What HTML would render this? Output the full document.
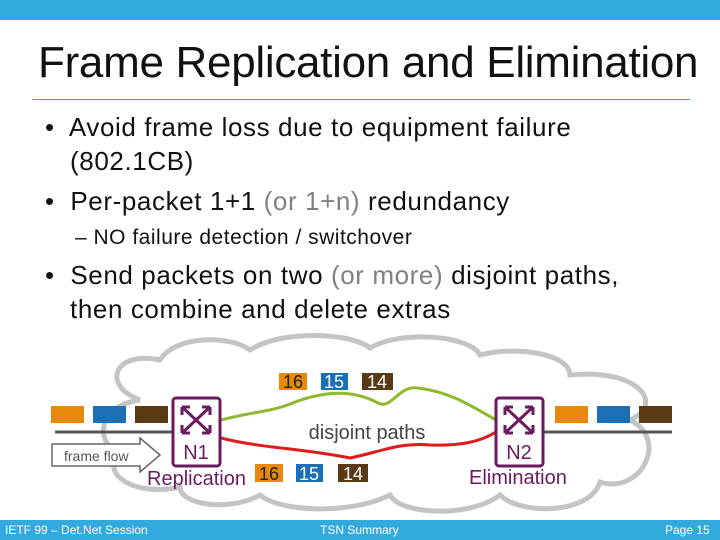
<!DOCTYPE html>
<html><head><meta charset="utf-8"><style>
body{margin:0;width:720px;height:540px;position:relative;overflow:hidden;background:#fff;font-family:"Liberation Sans",Arial,sans-serif}
.t{position:absolute;white-space:nowrap;color:#111}
.g{color:#808080}
.b{font-size:26px;letter-spacing:0.6px}
</style></head><body>
<div style="position:absolute;left:0;top:0;width:720px;height:20px;background:#33aadd"></div>
<div class="t" style="left:38px;top:38px;font-size:44px;letter-spacing:-0.3px">Frame Replication and Elimination</div>
<div style="position:absolute;left:32px;top:99px;width:658px;height:1px;background:#4a9fb0"></div>
<div class="t b" style="left:45px;top:112px">•&nbsp; Avoid frame loss due to equipment failure</div>
<div class="t b" style="left:70px;top:146px">(802.1CB)</div>
<div class="t b" style="left:45px;top:186px">•&nbsp; Per-packet 1+1 <span class="g">(or 1+n)</span> redundancy</div>
<div class="t" style="left:75px;top:226px;font-size:21px;letter-spacing:0.5px">– NO failure detection / switchover</div>
<div class="t b" style="left:45px;top:260px">•&nbsp; Send packets on two <span class="g">(or more)</span> disjoint paths,</div>
<div class="t b" style="left:70px;top:294px">then combine and delete extras</div>
<svg style="position:absolute;left:0;top:0" width="720" height="540" font-family="Liberation Sans,Arial,sans-serif">
<path d="M140,400 C100,385 115,350 160,360 C175,335 230,335 250,350 C280,330 350,332 370,348 C400,330 470,335 480,355 C520,345 570,355 570,375 C640,368 665,405 630,420 C670,440 640,495 600,482 C590,515 520,515 500,495 C470,518 400,515 390,495 C350,515 280,512 260,495 C230,512 180,505 180,487 C130,498 100,470 120,455 C92,440 100,405 140,400 Z" fill="none" stroke="#c4c4c4" stroke-width="5"/>
<line x1="55" y1="432" x2="172" y2="432" stroke="#555" stroke-width="3"/>
<line x1="543" y1="432" x2="672" y2="432" stroke="#555" stroke-width="3"/>
<rect x="51" y="406" width="33" height="17" fill="#e8890c"/><rect x="93" y="406" width="33" height="17" fill="#1a6fb5"/><rect x="135" y="406" width="33" height="17" fill="#5a3a14"/>
<rect x="555" y="406" width="33" height="17" fill="#e8890c"/><rect x="597" y="406" width="33" height="17" fill="#1a6fb5"/><rect x="639" y="406" width="33" height="17" fill="#5a3a14"/>
<path d="M221,420 C250,412 270,412 290,404 C320,392 350,388 378,403 C392,410 398,385 418,388 C450,392 470,405 496,420" fill="none" stroke="#8db92e" stroke-width="3"/>
<path d="M221,438 C260,448 300,448 350,458 C380,452 400,442 430,445 C460,446 480,442 496,432" fill="none" stroke="#e01b1b" stroke-width="3"/>
<rect x="173" y="398" width="47" height="68" rx="3" fill="#fff" stroke="#6b1a5e" stroke-width="3"/>
<rect x="496" y="398" width="47" height="68" rx="3" fill="#fff" stroke="#6b1a5e" stroke-width="3"/>
<g stroke="#6b1a5e" stroke-width="3" fill="none">
<path d="M182,407 L210,433 M210,407 L182,433 M182,407 h8 M182,407 v8 M210,407 h-8 M210,407 v8 M182,433 h8 M182,433 v-8 M210,433 h-8 M210,433 v-8"/>
<path d="M505,407 L533,433 M533,407 L505,433 M505,407 h8 M505,407 v8 M533,407 h-8 M533,407 v8 M505,433 h8 M505,433 v-8 M533,433 h-8 M533,433 v-8"/>
</g>
<text x="196" y="459" font-size="20" fill="#6b1a5e" text-anchor="middle">N1</text>
<text x="519" y="459" font-size="20" fill="#6b1a5e" text-anchor="middle">N2</text>
<text x="147" y="485" font-size="20" fill="#6b1a5e">Replication</text>
<text x="469" y="484" font-size="20" fill="#6b1a5e">Elimination</text>
<text x="367" y="439" font-size="20" fill="#444" text-anchor="middle">disjoint paths</text>
<path d="M52,444 H140 V438 L160,455 L140,472 V466 H52 Z" fill="#fff" stroke="#666" stroke-width="1.5"/>
<text x="64" y="461" font-size="14" fill="#555">frame flow</text>
<g font-size="18" fill="#fff" text-anchor="middle">
<rect x="279" y="373" width="28" height="17" fill="#e8890c"/><text x="293" y="388" fill="#222">16</text>
<rect x="321" y="373" width="27" height="17" fill="#1a6fb5"/><text x="334" y="388">15</text>
<rect x="362" y="373" width="31" height="17" fill="#5a3a14"/><text x="377" y="388">14</text>
<rect x="255" y="464" width="28" height="18" fill="#e8890c"/><text x="269" y="480" fill="#222">16</text>
<rect x="296" y="464" width="27" height="18" fill="#1a6fb5"/><text x="309" y="480">15</text>
<rect x="338" y="464" width="30" height="18" fill="#5a3a14"/><text x="353" y="480">14</text>
</g>
</svg>
<div style="position:absolute;left:0;top:520px;width:720px;height:20px;background:#33aadd"></div>
<div class="t" style="left:5px;top:523px;font-size:12px;color:#fff">IETF 99 – Det.Net Session</div>
<div class="t" style="left:320px;top:523px;font-size:12px;color:#fff">TSN Summary</div>
<div class="t" style="left:665px;top:523px;font-size:12px;color:#fff">Page 15</div>
</body></html>
